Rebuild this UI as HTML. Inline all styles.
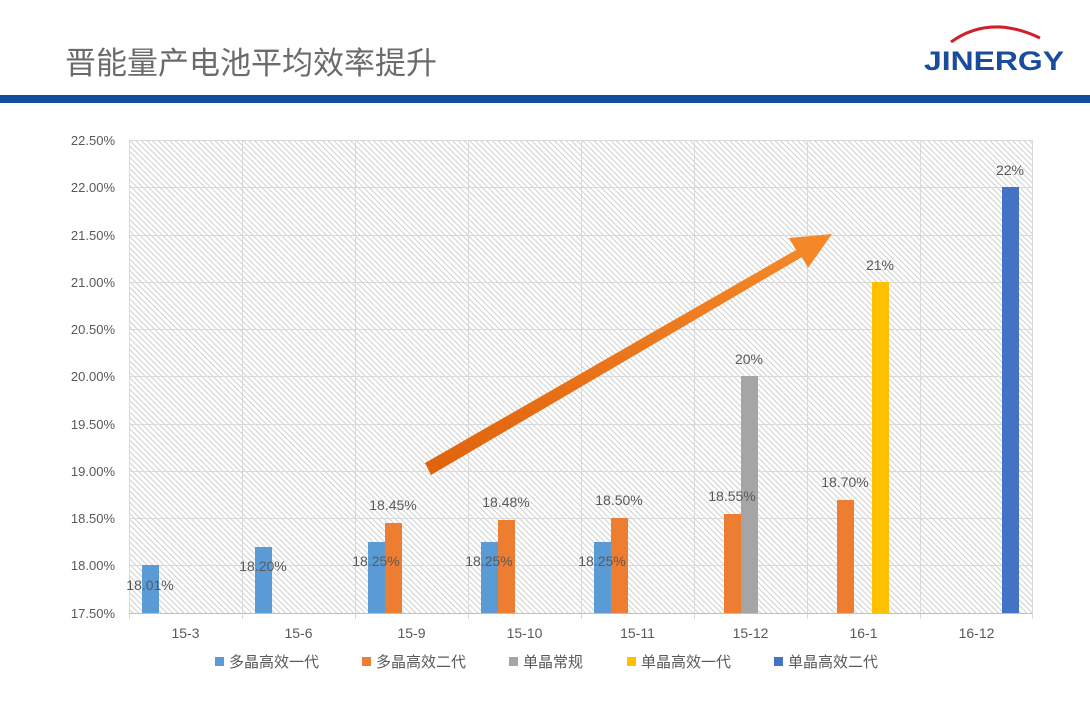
<!DOCTYPE html>
<html><head><meta charset="utf-8"><style>
body{margin:0;width:1090px;height:722px;background:#fff;overflow:hidden}
svg{display:block}
text{font-family:"Liberation Sans","Noto Sans CJK SC",sans-serif}
</style></head><body>
<svg width="1090" height="722" viewBox="0 0 1090 722">
<defs>
<pattern id="h" width="4" height="4" patternUnits="userSpaceOnUse" patternTransform="rotate(-45)">
<rect width="4" height="4" fill="#fff"/><line x1="0.5" y1="0" x2="0.5" y2="4" stroke="#cfcfcf" stroke-width="1"/>
</pattern>
<linearGradient id="ag" x1="0" y1="0" x2="0" y2="1"><stop offset="0" stop-color="#f58a2a"/><stop offset="1" stop-color="#e0620c"/></linearGradient>
</defs>
<text x="65" y="74" font-size="31" fill="#6b6b6b">晋能量产电池平均效率提升</text>
<path d="M951 42 Q990 14 1040 38" fill="none" stroke="#d0202a" stroke-width="3"/>
<text x="924" y="70" font-size="27" font-weight="bold" fill="#1a4c9c" textLength="140" lengthAdjust="spacingAndGlyphs">JINERGY</text>
<rect x="0" y="95" width="1090" height="8" fill="#134c9c"/>
<rect x="129" y="140" width="903" height="473" fill="url(#h)"/>
<g stroke="#d9d9d9" stroke-width="1">
<line x1="129" y1="140.5" x2="1032" y2="140.5"/><line x1="129" y1="187.5" x2="1032" y2="187.5"/><line x1="129" y1="235.5" x2="1032" y2="235.5"/><line x1="129" y1="282.5" x2="1032" y2="282.5"/><line x1="129" y1="329.5" x2="1032" y2="329.5"/><line x1="129" y1="376.5" x2="1032" y2="376.5"/><line x1="129" y1="424.5" x2="1032" y2="424.5"/><line x1="129" y1="471.5" x2="1032" y2="471.5"/><line x1="129" y1="518.5" x2="1032" y2="518.5"/><line x1="129" y1="565.5" x2="1032" y2="565.5"/>
<line x1="129.5" y1="140" x2="129.5" y2="619"/><line x1="242.5" y1="140" x2="242.5" y2="619"/><line x1="355.5" y1="140" x2="355.5" y2="619"/><line x1="468.5" y1="140" x2="468.5" y2="619"/><line x1="581.5" y1="140" x2="581.5" y2="619"/><line x1="694.5" y1="140" x2="694.5" y2="619"/><line x1="807.5" y1="140" x2="807.5" y2="619"/><line x1="920.5" y1="140" x2="920.5" y2="619"/><line x1="1032.5" y1="140" x2="1032.5" y2="619"/>
<line x1="129" y1="613.5" x2="1032" y2="613.5" stroke="#bfbfbf"/>
</g>
<g font-size="13" fill="#595959" text-anchor="end">
<text x="115" y="145">22.50%</text><text x="115" y="192">22.00%</text><text x="115" y="240">21.50%</text><text x="115" y="287">21.00%</text><text x="115" y="334">20.50%</text><text x="115" y="381">20.00%</text><text x="115" y="429">19.50%</text><text x="115" y="476">19.00%</text><text x="115" y="523">18.50%</text><text x="115" y="570">18.00%</text><text x="115" y="618">17.50%</text>
</g>
<g font-size="14" fill="#595959" text-anchor="middle">
<text x="185.5" y="638">15-3</text><text x="298.5" y="638">15-6</text><text x="411.5" y="638">15-9</text><text x="524.5" y="638">15-10</text><text x="637.5" y="638">15-11</text><text x="750.5" y="638">15-12</text><text x="863.5" y="638">16-1</text><text x="976.5" y="638">16-12</text>
</g>
<g>
<rect x="142" y="565" width="17" height="48" fill="#5b9bd5"/>
<rect x="255" y="547" width="17" height="66" fill="#5b9bd5"/>
<rect x="368" y="542" width="17" height="71" fill="#5b9bd5"/>
<rect x="385" y="523" width="17" height="90" fill="#ed7d31"/>
<rect x="481" y="542" width="17" height="71" fill="#5b9bd5"/>
<rect x="498" y="520" width="17" height="93" fill="#ed7d31"/>
<rect x="594" y="542" width="17" height="71" fill="#5b9bd5"/>
<rect x="611" y="518" width="17" height="95" fill="#ed7d31"/>
<rect x="724" y="514" width="17" height="99" fill="#ed7d31"/>
<rect x="741" y="376" width="17" height="237" fill="#a5a5a5"/>
<rect x="837" y="500" width="17" height="113" fill="#ed7d31"/>
<rect x="872" y="282" width="17" height="331" fill="#ffc000"/>
<rect x="1002" y="187" width="17" height="426" fill="#4472c4"/>
</g>
<g font-size="14" fill="#595959" text-anchor="middle">
<text x="150" y="590">18.01%</text><text x="263" y="571">18.20%</text><text x="376" y="566">18.25%</text><text x="393" y="510">18.45%</text>
<text x="489" y="566">18.25%</text><text x="506" y="507">18.48%</text><text x="602" y="566">18.25%</text><text x="619" y="505">18.50%</text>
<text x="732" y="501">18.55%</text><text x="749" y="364">20%</text><text x="845" y="487">18.70%</text><text x="880" y="270">21%</text><text x="1010" y="175">22%</text>
</g>
<polygon points="425,463 796,250 789,238 832,234 808,268 802,257 431,475" fill="url(#ag)"/>
<g font-size="15" fill="#595959">
<rect x="215" y="657" width="9" height="9" fill="#5b9bd5"/><text x="229" y="667">多晶高效一代</text>
<rect x="362" y="657" width="9" height="9" fill="#ed7d31"/><text x="376" y="667">多晶高效二代</text>
<rect x="509" y="657" width="9" height="9" fill="#a5a5a5"/><text x="523" y="667">单晶常规</text>
<rect x="627" y="657" width="9" height="9" fill="#ffc000"/><text x="641" y="667">单晶高效一代</text>
<rect x="774" y="657" width="9" height="9" fill="#4472c4"/><text x="788" y="667">单晶高效二代</text>
</g>
</svg>
</body></html>
